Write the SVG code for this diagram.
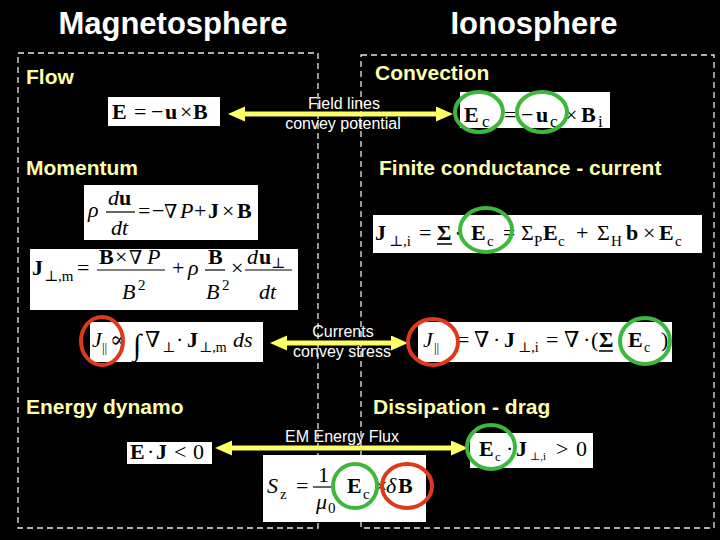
<svg xmlns="http://www.w3.org/2000/svg" width="720" height="540" viewBox="0 0 720 540">
<style>
.m{font-family:"Liberation Serif","DejaVu Serif",serif;fill:#000;font-size:22px}
.b{font-weight:bold}
.i{font-style:italic}
.s{font-size:15px}
.hd{font-family:"Liberation Sans",Arial,sans-serif;font-weight:bold;fill:#fff;font-size:31px}
.lab{font-family:"Liberation Sans",Arial,sans-serif;font-weight:bold;fill:#ffffaa;font-size:21px}
.al{font-family:"Liberation Sans",Arial,sans-serif;fill:#fff;font-size:16px}
.box{fill:#fff}
.g{fill:none;stroke:#3cb93c;stroke-width:4}
.r{fill:none;stroke:#dd3a1a;stroke-width:4}
.dash{fill:none;stroke:#e8e8e8;stroke-width:1.3;stroke-dasharray:6 4}
.arr{stroke:#ffff66;stroke-width:5;marker-start:url(#ah);marker-end:url(#ah)}
.fl{stroke:#000;stroke-width:1.2}
</style>
<defs>
<marker id="ah" markerUnits="userSpaceOnUse" markerWidth="18" markerHeight="16" refX="0" refY="7.5" orient="auto-start-reverse"><path d="M0,0 L17,7.5 L0,15 z" fill="#ffff66"/></marker>
</defs>
<rect width="720" height="540" fill="#000"/>

<g id="regions">
<rect class="dash" x="18" y="53" width="300" height="475"/>
<rect class="dash" x="361" y="55" width="353" height="473"/>
</g>

<g id="headings">
<text class="hd" x="173" y="34" text-anchor="middle">Magnetosphere</text>
<text class="hd" x="534" y="34" text-anchor="middle">Ionosphere</text>
</g>

<g id="labels">
<text class="lab" x="26" y="84">Flow</text>
<text class="lab" x="375" y="80">Convection</text>
<text class="lab" x="26" y="175">Momentum</text>
<text class="lab" x="379" y="175">Finite conductance - current</text>
<text class="lab" x="26" y="414">Energy dynamo</text>
<text class="lab" x="373" y="414">Dissipation - drag</text>
</g>

<g id="eq-flow">
<rect class="box" x="108" y="97" width="112" height="29"/>
<text class="m" font-size="21" y="119"><tspan class="b" x="112">E</tspan><tspan x="134">=</tspan><tspan x="151">−</tspan><tspan class="b" x="165">u</tspan><tspan x="180">×</tspan><tspan class="b" x="193">B</tspan></text>
</g>

<g id="eq-convection">
<rect class="box" x="460" y="92" width="150" height="36"/>
<text class="m" font-size="26" y="122"><tspan class="b" x="464">E</tspan><tspan font-size="17" x="482" y="127">c</tspan><tspan x="504" y="122">=</tspan><tspan x="521">−</tspan><tspan class="b" x="536">u</tspan><tspan font-size="17" x="550" y="127">c</tspan><tspan x="565" y="122">×</tspan><tspan class="b" x="581">B</tspan><tspan font-size="17" x="598" y="127">i</tspan></text>
</g>

<g id="eq-momentum">
<rect class="box" x="84" y="185" width="174" height="55"/>
<text class="m"><tspan class="i" x="88" y="217">ρ</tspan><tspan class="i" x="108" y="205">d</tspan><tspan class="b" x="119" y="205">u</tspan><tspan class="i" x="111" y="235">dt</tspan><tspan x="138" y="218">=</tspan><tspan x="152">−</tspan><tspan font-size="19" x="164">∇</tspan><tspan class="i" x="180">P</tspan><tspan x="194">+</tspan><tspan class="b" x="208">J</tspan><tspan x="222">×</tspan><tspan class="b" x="237">B</tspan></text>
<line class="fl" x1="106" y1="212" x2="135" y2="212"/>
</g>

<g id="eq-jperp-m">
<rect class="box" x="30" y="249" width="268" height="61"/>
<text class="m"><tspan class="b" x="32" y="275">J</tspan><tspan class="s" x="44" y="281">⊥,m</tspan><tspan x="77" y="275">=</tspan><tspan class="b" x="99" y="264">B</tspan><tspan x="115">×</tspan><tspan font-size="19" x="129">∇</tspan><tspan class="i" x="147">P</tspan><tspan class="i" x="122" y="299">B</tspan><tspan class="s" x="138" y="290">2</tspan><tspan x="172" y="275">+</tspan><tspan class="i" x="188">ρ</tspan><tspan class="b" x="208" y="264">B</tspan><tspan class="i" x="206" y="299">B</tspan><tspan class="s" x="222" y="290">2</tspan><tspan x="231" y="275">×</tspan><tspan class="i" x="247" y="264">d</tspan><tspan class="b" x="259">u</tspan><tspan class="s" x="271" y="268">⊥</tspan><tspan class="i" x="259" y="299">dt</tspan></text>
<line class="fl" x1="97" y1="270" x2="165" y2="270"/>
<line class="fl" x1="205" y1="270" x2="225" y2="270"/>
<line class="fl" x1="245" y1="270" x2="292" y2="270"/>
</g>

<g id="eq-jperp-i">
<rect class="box" x="373" y="215" width="329" height="38"/>
<text class="m" y="240"><tspan class="b" x="375">J</tspan><tspan class="s" x="389" y="246">⊥,i</tspan><tspan x="419" y="240">=</tspan><tspan class="b" x="437">Σ</tspan><tspan class="b" x="455">·</tspan><tspan class="b" x="471">E</tspan><tspan class="s" x="487" y="246">c</tspan><tspan x="503" y="240">=</tspan><tspan x="521">Σ</tspan><tspan class="s" x="534" y="246">P</tspan><tspan class="b" x="543" y="240">E</tspan><tspan class="s" x="558" y="246">c</tspan><tspan x="576" y="240">+</tspan><tspan x="597">Σ</tspan><tspan class="s" x="611" y="246">H</tspan><tspan class="b" x="626" y="240">b</tspan><tspan x="643">×</tspan><tspan class="b" x="659">E</tspan><tspan class="s" x="675" y="246">c</tspan></text>
<line x1="437" y1="244" x2="452" y2="244" stroke="#000" stroke-width="1.5"/>
</g>

<g id="eq-jpar-m">
<rect class="box" x="90" y="322" width="173" height="40"/>
<text class="m" font-size="20" y="347"><tspan class="i" x="92">J</tspan><tspan font-size="13" x="102" y="352">||</tspan><tspan x="110" y="347">∝</tspan><tspan font-size="30" x="133" y="355">∫</tspan><tspan x="145" y="347">∇</tspan><tspan font-size="14" x="162" y="352">⊥</tspan><tspan x="176" y="347">·</tspan><tspan class="b" x="187">J</tspan><tspan font-size="14" x="199" y="352">⊥,m</tspan><tspan class="i" x="233" y="347">ds</tspan></text>
</g>

<g id="eq-jpar-i">
<rect class="box" x="418" y="322" width="254" height="40"/>
<text class="m" font-size="21" y="347"><tspan class="i" x="423">J</tspan><tspan font-size="13" x="434" y="352">||</tspan><tspan x="457" y="347">=</tspan><tspan x="474">∇</tspan><tspan x="493">·</tspan><tspan class="b" x="504">J</tspan><tspan font-size="14" x="518" y="352">⊥,i</tspan><tspan x="546" y="347">=</tspan><tspan x="564">∇</tspan><tspan x="583">·</tspan><tspan x="591">(</tspan><tspan class="b" x="599">Σ</tspan><tspan x="617">·</tspan><tspan class="b" x="628">E</tspan><tspan font-size="14" x="644" y="352">c</tspan><tspan x="661" y="347">)</tspan></text>
<line x1="599" y1="351" x2="613" y2="351" stroke="#000" stroke-width="1.5"/>
</g>

<g id="eq-ej">
<rect class="box" x="127" y="442" width="85" height="22"/>
<text class="m" font-size="20" y="459"><tspan class="b" x="130">E</tspan><tspan x="147">·</tspan><tspan class="b" x="156">J</tspan><tspan x="174">&lt;</tspan><tspan x="193">0</tspan></text>
</g>

<g id="eq-ecj">
<rect class="box" x="470" y="433" width="123" height="35"/>
<text class="m" y="456"><tspan class="b" x="479">E</tspan><tspan font-size="13" x="495" y="461">c</tspan><tspan x="506" y="456">·</tspan><tspan class="b" x="516">J</tspan><tspan font-size="11" x="530" y="460">⊥,i</tspan><tspan x="556" y="456">&gt;</tspan><tspan x="576">0</tspan></text>
</g>

<g id="eq-poynting">
<rect class="box" x="263" y="455" width="163" height="67"/>
<text class="m"><tspan class="i" x="267" y="493">S</tspan><tspan class="s" x="280" y="499">z</tspan><tspan x="296" y="493">=</tspan><tspan x="318" y="482">1</tspan><tspan class="i" x="316" y="509">μ</tspan><tspan class="s" x="328" y="513">0</tspan><tspan class="b" x="347" y="493">E</tspan><tspan class="s" x="363" y="499">c</tspan><tspan x="375" y="493">×</tspan><tspan class="i" x="386">δ</tspan><tspan class="b" x="398">B</tspan></text>
<line class="fl" x1="313" y1="487" x2="334" y2="487"/>
</g>

<g id="connectors">
<line class="arr" x1="245" y1="114" x2="436" y2="114"/>
<line class="arr" x1="287" y1="343" x2="391" y2="343"/>
<line class="arr" x1="232" y1="448" x2="451" y2="448"/>
</g>

<g id="connector-labels">
<text class="al" x="344" y="109" text-anchor="middle">Field lines</text>
<text class="al" x="343" y="129" text-anchor="middle">convey potential</text>
<text class="al" x="343" y="337" text-anchor="middle">Currents</text>
<text class="al" x="342" y="357" text-anchor="middle">convey stress</text>
<text class="al" x="342" y="442" text-anchor="middle">EM Energy Flux</text>
</g>

<g id="highlights">
<ellipse class="g" cx="479" cy="112" rx="24" ry="20"/>
<ellipse class="g" cx="542" cy="112" rx="25" ry="20"/>
<ellipse class="g" cx="486" cy="230" rx="26" ry="22"/>
<ellipse class="r" cx="102" cy="341" rx="21" ry="24"/>
<ellipse class="r" cx="433" cy="342" rx="25" ry="23"/>
<ellipse class="g" cx="645" cy="341" rx="25" ry="23"/>
<ellipse class="g" cx="491" cy="447" rx="24" ry="22"/>
<ellipse class="g" cx="355" cy="486" rx="22" ry="22"/>
<ellipse class="r" cx="407" cy="486" rx="25" ry="22"/>
</g>
</svg>
